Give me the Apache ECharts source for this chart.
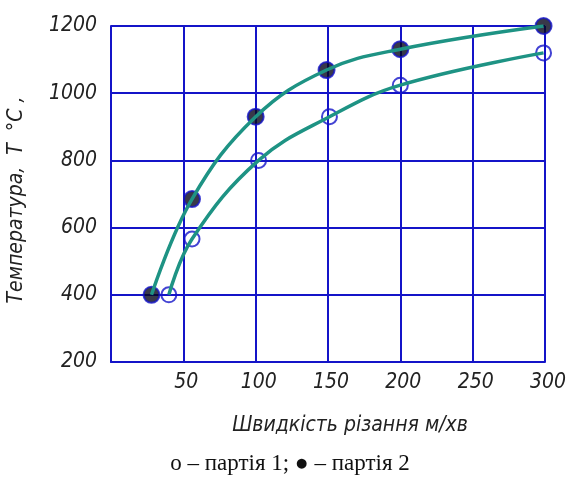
<!DOCTYPE html>
<html><head><meta charset="utf-8">
<script src="https://cdn.jsdelivr.net/npm/echarts@6/dist/echarts.min.js"></script>
<style>html,body{margin:0;padding:0;background:#fff}#c{width:571px;height:478px}</style>
</head><body><div id="c"></div>
<script>
// партія 1 (open circles)
const speed1 = [40, 56, 102, 151, 200, 299];
const temp1  = [400, 566, 800, 930, 1024, 1120];
// партія 2 (filled circles)
const speed2 = [28, 56, 100, 149, 200, 299];
const temp2  = [400, 685, 930, 1069, 1131, 1200];

const xTitle = 'Швидкість різання м/хв';
const yTitle = 'Температура,  Т  °С ,';
const note = 'о – партія 1; ● – партія 2';

const gridBlue = '#1414c8';
const teal = '#1e9384';
const fontGost = '"Liberation Sans Narrow", "DejaVu Sans Condensed", sans-serif';

const pts = (xs, ys) => xs.map((x, i) => [x, ys[i]]);

const chart = echarts.init(document.getElementById('c'), null, {renderer: 'canvas'});
chart.setOption({
  animation: false,
  backgroundColor: '#fff',
  grid: {left: 111, right: 26, top: 26, bottom: 116},
  xAxis: {
    type: 'value', min: 0, max: 300, interval: 50,
    axisLine: {show: true, lineStyle: {color: gridBlue, width: 2}},
    axisTick: {show: false},
    splitLine: {show: true, lineStyle: {color: gridBlue, width: 2}},
    axisLabel: {showMinLabel: false, margin: 10, color: '#222', fontSize: 21, fontStyle: 'italic', fontWeight: 'lighter', fontFamily: fontGost, padding: [0, 0, 0, 6],
      formatter: v => String(v)}
  },
  yAxis: {
    type: 'value', min: 200, max: 1200, interval: 200,
    axisLine: {show: true, lineStyle: {color: gridBlue, width: 2}},
    axisTick: {show: false},
    splitLine: {show: true, lineStyle: {color: gridBlue, width: 2}},
    axisLabel: {margin: 14, color: '#222', fontSize: 21, fontStyle: 'italic', fontWeight: 'lighter', fontFamily: fontGost,
      formatter: v => String(v)}
  },
  series: [
    {type: 'scatter', data: pts(speed1, temp1), symbol: 'circle', symbolSize: 15, z: 2,
     itemStyle: {color: 'rgba(255,255,255,0)', borderColor: gridBlue, borderWidth: 2}},
    {type: 'scatter', data: pts(speed2, temp2), symbol: 'circle', symbolSize: 16, z: 2,
     itemStyle: {color: '#06061c', borderColor: gridBlue, borderWidth: 2}},
    {type: 'line', data: pts(speed1, temp1), smooth: 0.4, showSymbol: false, z: 3,
     lineStyle: {color: teal, width: 3.5}},
    {type: 'line', data: pts(speed2, temp2), smooth: 0.4, showSymbol: false, z: 3,
     lineStyle: {color: teal, width: 3.5}}
  ],
  graphic: [
    {type: 'text', x: 17, y: 200, rotation: Math.PI / 2,
     style: {text: yTitle, fill: '#222', font: 'italic lighter 21px ' + fontGost, align: 'center', verticalAlign: 'middle'}},
    {type: 'text', x: 350, y: 426,
     style: {text: xTitle, fill: '#222', font: 'italic lighter 21px ' + fontGost, align: 'center', verticalAlign: 'middle'}},
    {type: 'text', x: 290, y: 464,
     style: {text: note, fill: '#111', font: '23px "Liberation Serif", "Times New Roman", serif', align: 'center', verticalAlign: 'middle'}}
  ]
});
</script></body></html>
